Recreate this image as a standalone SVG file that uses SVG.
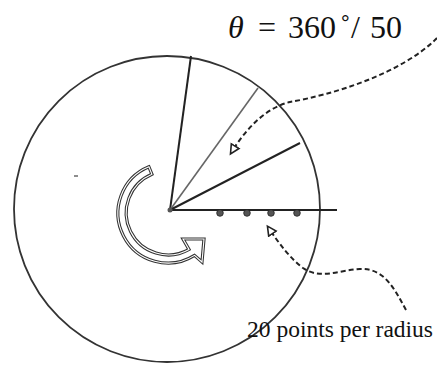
<svg xmlns="http://www.w3.org/2000/svg" width="437" height="376" viewBox="0 0 437 376">
<style>
.ray{stroke:#222;stroke-width:2;fill:none}
.ray2{stroke:#666;stroke-width:1.6;fill:none}
.dash{stroke:#222;stroke-width:2;fill:none;stroke-dasharray:5 3}
text{font-family:'Liberation Serif','Times New Roman','DejaVu Serif',serif;fill:#111}
</style>
<defs>
<marker id="ah" markerWidth="12" markerHeight="12" refX="9" refY="5" orient="auto" markerUnits="userSpaceOnUse" viewBox="0 0 12 10">
<path d="M1,0.5 L10,5 L1,9.5 Z" fill="#fff" stroke="#222" stroke-width="1.6"/>
</marker>
</defs>
<rect width="437" height="376" fill="#fff"/>
<g id="circle">
<circle cx="167" cy="209" r="153" fill="none" stroke="#333" stroke-width="1.8"/>
</g>
<g id="rays">
<line class="ray" x1="170" y1="210" x2="191" y2="56"/>
<line class="ray2" x1="170" y1="210" x2="258" y2="88"/>
<line class="ray" x1="170" y1="210" x2="300" y2="143"/>
<line class="ray" x1="170" y1="210" x2="337" y2="210"/>
<circle cx="170" cy="210" r="2.5" fill="#555"/>
</g>
<g id="points" fill="#555" stroke="#222" stroke-width="0.8">
<circle cx="220" cy="213" r="3.3"/>
<circle cx="247" cy="213" r="3.3"/>
<circle cx="271" cy="213" r="3.3"/>
<circle cx="297" cy="213" r="3.3"/>
</g>
<g id="rotation-arrow">
<path d="M148.9,166.8 A50,50 0 1 0 194.5,255.4 L202,262 L204,239 L183,239 L189,249.4 A42,42 0 1 1 151.9,174.2 Z" fill="none" stroke="#333" stroke-width="3.2" stroke-linejoin="miter"/>
<path d="M148.9,166.8 A50,50 0 1 0 194.5,255.4 L202,262 L204,239 L183,239 L189,249.4 A42,42 0 1 1 151.9,174.2 Z" fill="none" stroke="#fff" stroke-width="1.1" stroke-linejoin="miter"/>
</g>
<g id="connectors">
<path class="dash" d="M437,38 C400,75 330,95 290,102 C265,108 245,130 231,153" marker-end="url(#ah)"/>
<path class="dash" d="M406,310 C395,290 385,268 360,269 C340,270 320,280 303,268 C290,258 280,245 268,227" marker-end="url(#ah)"/>
</g>
<line x1="74" y1="176" x2="78" y2="176" stroke="#444" stroke-width="1.2"/>
<g id="label-theta">
<text y="38" font-size="32"><tspan x="228" font-style="italic">θ</tspan><tspan x="258">=</tspan><tspan x="288">360</tspan><tspan x="340">˚</tspan><tspan x="351">/</tspan><tspan x="370">50</tspan></text>
</g>
<g id="label-points">
<text x="247" y="337" font-size="23.5">20 points per radius</text>
</g>
</svg>
